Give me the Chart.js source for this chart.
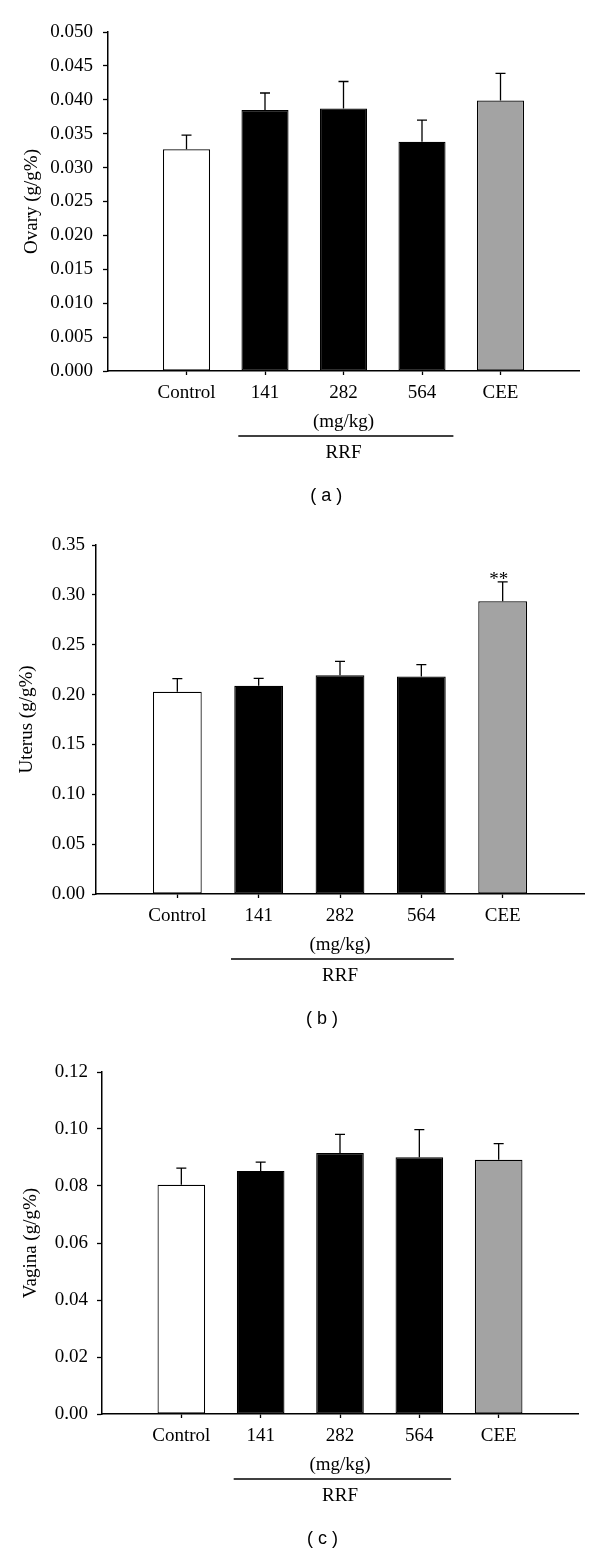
<!DOCTYPE html>
<html>
<head>
<meta charset="utf-8">
<script src="https://cdn.jsdelivr.net/npm/chart.js@4"></script>
<style>
  body { margin: 0; background: #fff; }
  .panel { position: absolute; left: 0; width: 600px; }
</style>
</head>
<body>
<div class="panel" style="top:0"><canvas id="ovaryChart" width="600" height="520"></canvas></div>
<div class="panel" style="top:520px"><canvas id="uterusChart" width="600" height="520"></canvas></div>
<div class="panel" style="top:1040px"><canvas id="vaginaChart" width="600" height="519"></canvas></div>
<script>
// Groups on the x axis
const groups = ['Control', '141', '282', '564', 'CEE'];
const barColors = ['#ffffff', '#000000', '#000000', '#000000', '#a3a3a3'];

// (a) Ovary weight
const ovaryMean = [0.0327, 0.0385, 0.0387, 0.0338, 0.0399];
const ovarySE = [0.0021, 0.0025, 0.0040, 0.0032, 0.0040];
const ovaryTicks = [0, 0.005, 0.010, 0.015, 0.020, 0.025, 0.030, 0.035, 0.040, 0.045, 0.050];

// (b) Uterus weight
const uterusMean = [0.2029, 0.2089, 0.2193, 0.2180, 0.2936];
const uterusSE = [0.0130, 0.0074, 0.0140, 0.0120, 0.0195];
const uterusSig = ['', '', '', '', '**'];
const uterusTicks = [0, 0.05, 0.10, 0.15, 0.20, 0.25, 0.30, 0.35];

// (c) Vagina weight
const vaginaMean = [0.0804, 0.0853, 0.0916, 0.0901, 0.0892];
const vaginaSE = [0.0059, 0.0031, 0.0065, 0.0097, 0.0057];
const vaginaTicks = [0, 0.02, 0.04, 0.06, 0.08, 0.10, 0.12];

const serif = 'Liberation Serif';
const fontSize = 19;

function makePanel(id, spec) {
  const canvas = document.getElementById(id);
  const box = spec.box;

  // error bars, significance marks and the RRF bracket under the axis
  const extras = {
    id: 'extras',
    afterDatasetsDraw(chart) {
      const ctx = chart.ctx;
      const x = chart.scales.x, y = chart.scales.y;
      ctx.save();
      ctx.strokeStyle = '#000';
      ctx.fillStyle = '#000';
      ctx.lineWidth = 1.3;
      spec.mean.forEach((m, i) => {
        const px = x.getPixelForValue(i + 1);
        const top = y.getPixelForValue(m);
        const end = y.getPixelForValue(m + spec.se[i]);
        ctx.beginPath();
        ctx.moveTo(px, top);
        ctx.lineTo(px, end);
        ctx.moveTo(px - 5, end);
        ctx.lineTo(px + 5, end);
        ctx.stroke();
        if (spec.sig && spec.sig[i]) {
          ctx.font = fontSize + 'px "' + serif + '"';
          ctx.textAlign = 'center';
          ctx.textBaseline = 'alphabetic';
          ctx.fillText(spec.sig[i], px - 4, end + 3);
        }
      });
      ctx.restore();
    },
    afterDraw(chart) {
      const ctx = chart.ctx;
      const x = chart.scales.x;
      const base = chart.chartArea.bottom;
      ctx.save();
      ctx.fillStyle = '#000';
      ctx.strokeStyle = '#000';
      ctx.textAlign = 'center';
      ctx.textBaseline = 'middle';
      ctx.font = fontSize + 'px "' + serif + '"';
      ctx.fillText('(mg/kg)', x.getPixelForValue(3), base + 51);
      ctx.fillText('RRF', x.getPixelForValue(3), base + 82);
      ctx.lineWidth = 1.3;
      ctx.beginPath();
      ctx.moveTo(x.getPixelForValue(1.66), base + 65);
      ctx.lineTo(x.getPixelForValue(4.4), base + 65);
      ctx.stroke();
      ctx.font = '18px "Liberation Sans"';
      ctx.fillText(spec.letter, x.getPixelForValue(2.78), base + 125);
      ctx.restore();
    }
  };

  return new Chart(canvas, {
    type: 'bar',
    data: {
      labels: ['', ...groups, ''],
      datasets: [{
        data: [null, ...spec.mean, null],
        backgroundColor: ['#fff', ...barColors, '#fff'],
        borderColor: '#000',
        borderWidth: 1.2,
        borderSkipped: false,
        barPercentage: 0.6,
        categoryPercentage: 1
      }]
    },
    options: {
      responsive: false,
      animation: false,
      layout: {
        padding: { top: box.top, right: canvas.width - box.right, left: 0, bottom: 0 }
      },
      plugins: {
        legend: { display: false },
        tooltip: { enabled: false }
      },
      scales: {
        x: {
          type: 'category',
          offset: false,
          afterFit: s => { s.height = canvas.height - box.bottom; },
          grid: {
            offset: false,
            drawOnChartArea: false,
            tickLength: 4,
            tickWidth: 1.3,
            tickColor: c => (c.index === 0 || c.index === groups.length + 1) ? 'rgba(0,0,0,0)' : '#000'
          },
          border: { display: true, color: '#000', width: 1.5 },
          ticks: {
            color: '#000',
            padding: 7,
            autoSkip: false,
            maxRotation: 0,
            font: { family: serif, size: fontSize }
          }
        },
        y: {
          min: 0,
          max: spec.ticks[spec.ticks.length - 1],
          afterFit: s => { s.width = box.left; },
          afterBuildTicks: s => { s.ticks = spec.ticks.map(v => ({ value: v })); },
          grid: {
            drawOnChartArea: false,
            tickLength: box.tickLen,
            tickWidth: 1.3,
            tickColor: '#000'
          },
          border: { display: true, color: '#000', width: 1.5 },
          ticks: {
            color: '#000',
            padding: box.gap,
            font: { family: serif, size: fontSize },
            callback: v => Number(v).toFixed(spec.digits)
          },
          title: {
            display: true,
            text: spec.title,
            color: '#000',
            padding: { top: box.titlePad, bottom: 0 },
            font: { family: serif, size: fontSize }
          }
        }
      }
    },
    plugins: [extras]
  });
}

makePanel('ovaryChart', {
  mean: ovaryMean, se: ovarySE, ticks: ovaryTicks, digits: 3,
  title: 'Ovary (g/g%)', letter: '( a )',
  box: { left: 108, top: 32, bottom: 371, right: 579, tickLen: 5, gap: 10, titlePad: 21 }
});

makePanel('uterusChart', {
  mean: uterusMean, se: uterusSE, sig: uterusSig, ticks: uterusTicks, digits: 2,
  title: 'Uterus (g/g%)', letter: '( b )',
  box: { left: 96, top: 25, bottom: 374, right: 584, tickLen: 4, gap: 7, titlePad: 16 }
});

makePanel('vaginaChart', {
  mean: vaginaMean, se: vaginaSE, ticks: vaginaTicks, digits: 2,
  title: 'Vagina (g/g%)', letter: '( c )',
  box: { left: 102, top: 32, bottom: 374, right: 578, tickLen: 5, gap: 9, titlePad: 20 }
});
</script>
</body>
</html>
